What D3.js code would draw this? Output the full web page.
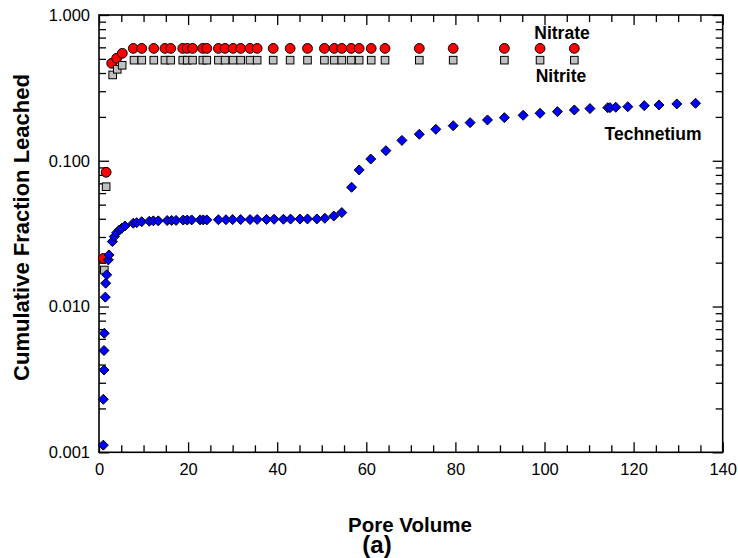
<!DOCTYPE html>
<html>
<head>
<meta charset="utf-8">
<script src="https://cdn.jsdelivr.net/npm/d3@7"></script>
<style>
  html, body { margin: 0; padding: 0; background: #fff; }
  svg { display: block; font-family: "Liberation Sans", Arial, sans-serif; }
</style>
</head>
<body>
<svg id="chart" width="738" height="558"></svg>
<script>
// Cumulative fraction leached vs. pore volume
const nitratePV = [1.0, 1.6, 2.85, 3.97, 5.23, 7.7, 9.6, 12.3, 14.8, 16.1, 18.8, 19.8, 21.0, 23.3, 24.2,
  26.8, 28.3, 30.1, 31.8, 33.9, 35.5, 39.1, 42.9, 46.8, 50.6, 52.8, 54.5, 56.6, 58.4, 61.1, 64.2,
  71.9, 79.5, 91.0, 99.0, 106.7];
const nitrateCF = [0.0214, 0.0834, 0.466, 0.505, 0.546, 0.59, 0.59, 0.59, 0.59, 0.59, 0.59, 0.59, 0.59, 0.59, 0.59,
  0.59, 0.59, 0.59, 0.59, 0.59, 0.59, 0.59, 0.59, 0.59, 0.59, 0.59, 0.59, 0.59, 0.59, 0.59, 0.59,
  0.59, 0.59, 0.59, 0.59, 0.59];

const nitritePV = [1.2, 1.6, 3.07, 4.1, 5.2, 7.86, 9.6, 12.3, 14.8, 16.1, 18.8, 19.8, 21.0, 23.3, 24.2,
  26.8, 28.3, 30.1, 31.8, 33.9, 35.5, 39.1, 42.9, 46.8, 50.6, 52.8, 54.5, 56.6, 58.4, 61.1, 64.2,
  71.9, 79.5, 91.0, 99.0, 106.7];
const nitriteCF = [0.0178, 0.0664, 0.388, 0.424, 0.452, 0.49, 0.49, 0.49, 0.49, 0.49, 0.49, 0.49, 0.49, 0.49, 0.49,
  0.49, 0.49, 0.49, 0.49, 0.49, 0.49, 0.49, 0.49, 0.49, 0.49, 0.49, 0.49, 0.49, 0.49, 0.49, 0.49,
  0.49, 0.49, 0.49, 0.49, 0.49];

const techPV = [0.97, 0.97, 1.12, 1.12, 1.19, 1.41, 1.50, 1.73, 2.09, 2.24, 2.99, 3.43, 3.97, 4.56, 5.10, 5.84,
  7.70, 8.46, 9.58, 11.3, 12.2, 13.3, 15.3, 16.3, 17.3, 18.9, 19.8, 20.8, 22.7, 23.4, 24.2,
  26.8, 28.5, 30.0, 31.8, 33.9, 35.5, 37.6, 39.3, 41.4, 43.0, 45.1, 46.8, 48.9, 50.7, 52.7, 54.5,
  56.7, 58.4, 61.0, 64.4, 68.0, 71.9, 75.6, 79.5, 83.3, 87.2, 91.0, 95.2, 99.0, 102.9, 106.7, 110.2,
  114.2, 114.7, 116.0, 118.7, 122.4, 125.7, 129.7, 133.9];
const techCF = [0.00112, 0.00231, 0.00367, 0.00499, 0.00656, 0.0116, 0.01445, 0.0165, 0.0209, 0.0226, 0.0279, 0.0302, 0.0321, 0.0335, 0.0344, 0.0357,
  0.0373, 0.0376, 0.0382, 0.0385, 0.0387, 0.0387, 0.0389, 0.0390, 0.0390, 0.0392, 0.0392, 0.0393, 0.0393, 0.0393, 0.0393,
  0.0394, 0.0394, 0.0395, 0.0395, 0.0395, 0.0396, 0.0396, 0.0397, 0.0397, 0.0398, 0.0398, 0.0399, 0.0399, 0.0403, 0.0418, 0.0441,
  0.0658, 0.0865, 0.1028, 0.1173, 0.138, 0.152, 0.1644, 0.174, 0.1826, 0.1905, 0.1976, 0.205, 0.2117, 0.2173, 0.223, 0.228,
  0.2314, 0.2314, 0.2328, 0.235, 0.2388, 0.2414, 0.2453, 0.248];

const xMajorTicks = [0, 20, 40, 60, 80, 100, 120, 140];
const yMajorTicks = [0.001, 0.01, 0.1, 1];
const yTickLabels = ["0.001", "0.010", "0.100", "1.000"];

const svg = d3.select("#chart");
const plotL = 99, plotR = 722.7, plotT = 15, plotB = 452.3;

const x = d3.scaleLinear().domain([0, 140]).range([plotL, plotR]);
const y = d3.scaleLog().domain([0.001, 1]).range([plotB, plotT]);

const xMinor = d3.range(0, 141, 5).filter(v => v % 20 !== 0);
const yMinor = [];
[0.001, 0.01, 0.1].forEach(d => { for (let k = 2; k <= 9; k++) yMinor.push(d * k); });

function styleAxis(g) {
  g.select(".domain").remove();
  g.selectAll(".tick line").attr("stroke", "#000").attr("stroke-width", 1.3);
  g.selectAll(".tick text").attr("fill", "#000").attr("font-size", 16.5)
    .attr("font-family", "Liberation Sans, Arial, sans-serif");
}

// bottom axis
svg.append("g").attr("transform", `translate(0,${plotB})`)
  .call(d3.axisBottom(x).tickValues(xMajorTicks).tickSize(-10).tickPadding(11).tickFormat(d3.format("d")))
  .call(styleAxis);
svg.append("g").attr("transform", `translate(0,${plotB})`)
  .call(d3.axisBottom(x).tickValues(xMinor).tickSize(-7).tickFormat(""))
  .call(styleAxis);
// top axis
svg.append("g").attr("transform", `translate(0,${plotT})`)
  .call(d3.axisTop(x).tickValues(xMajorTicks).tickSize(-10).tickFormat(""))
  .call(styleAxis);
svg.append("g").attr("transform", `translate(0,${plotT})`)
  .call(d3.axisTop(x).tickValues(xMinor).tickSize(-7).tickFormat(""))
  .call(styleAxis);
// left axis
svg.append("g").attr("transform", `translate(${plotL},0)`)
  .call(d3.axisLeft(y).tickValues(yMajorTicks).tickSize(-10).tickPadding(9)
    .tickFormat((d, i) => yTickLabels[i]))
  .call(styleAxis);
svg.append("g").attr("transform", `translate(${plotL},0)`)
  .call(d3.axisLeft(y).tickValues(yMinor).tickSize(-7).tickFormat(""))
  .call(styleAxis);
// right axis
svg.append("g").attr("transform", `translate(${plotR},0)`)
  .call(d3.axisRight(y).tickValues(yMajorTicks).tickSize(-10).tickFormat(""))
  .call(styleAxis);
svg.append("g").attr("transform", `translate(${plotR},0)`)
  .call(d3.axisRight(y).tickValues(yMinor).tickSize(-7).tickFormat(""))
  .call(styleAxis);

// plot frame
svg.append("rect")
  .attr("x", plotL).attr("y", plotT)
  .attr("width", plotR - plotL).attr("height", plotB - plotT)
  .attr("fill", "none").attr("stroke", "#000").attr("stroke-width", 1.6);

const marks = svg.append("g");

// Nitrate: red circles
marks.append("g").selectAll("circle")
  .data(d3.zip(nitratePV, nitrateCF))
  .join("circle")
  .attr("cx", d => x(d[0])).attr("cy", d => y(d[1])).attr("r", 4.9)
  .attr("fill", "#ff0000").attr("stroke", "#000").attr("stroke-width", 1);

// Nitrite: grey squares
const sq = 7.6;
marks.append("g").selectAll("rect")
  .data(d3.zip(nitritePV, nitriteCF))
  .join("rect")
  .attr("x", d => x(d[0]) - sq / 2).attr("y", d => y(d[1]) - sq / 2)
  .attr("width", sq).attr("height", sq)
  .attr("fill", "#c0c0c0").attr("stroke", "#000").attr("stroke-width", 1);

// Technetium: blue diamonds
const dm = 5;
marks.append("g").selectAll("path")
  .data(d3.zip(techPV, techCF))
  .join("path")
  .attr("transform", d => `translate(${x(d[0])},${y(d[1])})`)
  .attr("d", `M0,${-dm}L${dm},0L0,${dm}L${-dm},0Z`)
  .attr("fill", "#0000ff").attr("stroke", "#000").attr("stroke-width", 1);

// series labels
const lbl = svg.append("g").attr("font-weight", "bold").attr("font-size", 17.5)
  .attr("text-anchor", "middle").attr("fill", "#000");
lbl.append("text").attr("x", 562).attr("y", 39).text("Nitrate");
lbl.append("text").attr("x", 561).attr("y", 82).text("Nitrite");
lbl.append("text").attr("x", 653).attr("y", 139.5).text("Technetium");

// axis titles
svg.append("text").attr("x", 410).attr("y", 532)
  .attr("text-anchor", "middle").attr("font-weight", "bold").attr("font-size", 20.5)
  .text("Pore Volume");
svg.append("text")
  .attr("transform", `translate(28.5,227.5) rotate(-90)`)
  .attr("text-anchor", "middle").attr("font-weight", "bold").attr("font-size", 22)
  .text("Cumulative Fraction Leached");
svg.append("text").attr("x", 377).attr("y", 553)
  .attr("text-anchor", "middle").attr("font-weight", "bold").attr("font-size", 24)
  .text("(a)");
</script>
</body>
</html>
